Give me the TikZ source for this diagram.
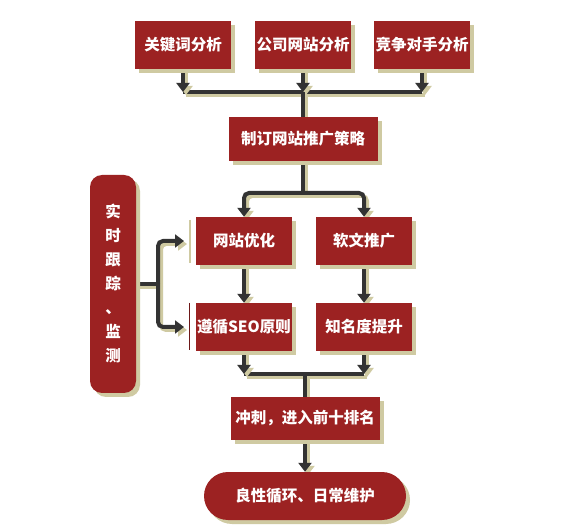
\documentclass[tikz,border=0pt]{standalone}
\usepackage{fontspec}
\newfontfamily\cjk{Noto Sans CJK SC}
\usetikzlibrary{arrows.meta,shadows,calc}
\definecolor{boxred}{HTML}{9C2222}
\definecolor{shd}{HTML}{CFCAA2}
\definecolor{lin}{HTML}{333333}
\pgfdeclarelayer{bg}
\pgfsetlayers{bg,main}
\tikzset{
 box/.style={fill=boxred, draw=none, minimum width=96pt, minimum height=48pt, inner sep=0pt,
   text=white, font=\cjk\bfseries\fontsize{15.5}{18}\selectfont,
   drop shadow={fill=shd, opacity=1, shadow xshift=4pt, shadow yshift=-4pt}},
 wbox/.style={box, minimum width=149pt, minimum height=44pt},
 conn/.style={draw=lin, line width=4pt,
   preaction={draw=shd, line width=4pt, transform canvas={shift={(3pt,-3pt)}}}},
 arr/.style={conn, -{Triangle[width=13pt,length=9pt]}},
}
\begin{document}
\begin{tikzpicture}[x=1pt,y=-1pt]
\useasboundingbox (0,0) rectangle (568,529);
\node[box] (b1) at (183,45) {关键词分析};
\node[box] (b2) at (303,45) {公司网站分析};
\node[box] (b3) at (422,45) {竞争对手分析};
\node[wbox] (b4) at (303,139) {制订网站推广策略};
\node[box] (b5) at (244,241) {网站优化};
\node[box] (b6) at (364,241) {软文推广};
\node[box] (b7) at (244,327) {遵循SEO原则};
\node[box] (b8) at (364,327) {知名度提升};
\node[wbox, minimum height=43pt] (b9) at (305,418.5) {冲刺，进入前十排名};
\node[box, minimum width=202pt, rounded corners=24pt] (b10) at (305,496) {良性循环、日常维护};
\node[box, minimum width=46pt, minimum height=218pt, rounded corners=12pt, align=center,
  font=\cjk\bfseries\fontsize{15.5}{24}\selectfont] (lt) at (113,284)
  {实\\时\\跟\\踪\\、\\监\\测};
\coordinate (j1) at (303,92);
\coordinate (j2) at (303,193);
\coordinate (j3) at (305,374);
\coordinate (jl) at (158,284);
\coordinate (t5) at (184,241);
\coordinate (t7) at (184,327);
\begin{pgfonlayer}{bg}
\fill[white] (0,0) rectangle (568,529);
\draw[conn] (b1.south |- j1) -- (b3.south |- j1);
\draw[arr] (b1.south) -- (b1.south |- j1);
\draw[arr] (b2.south) -- (j1);
\draw[arr] (b3.south) -- (b3.south |- j1);
\draw[conn] (j1) -- (b4.north);
\draw[conn] (b4.south) -- (j2);
\draw[arr, rounded corners=5pt] (j2) -| (b5.north);
\draw[arr, rounded corners=5pt] (j2) -| (b6.north);
\draw[arr] (b5.south) -- (b7.north);
\draw[arr] (b6.south) -- (b8.north);
\draw[conn] (b7.south |- j3) -- (b8.south |- j3);
\draw[arr] (b7.south) -- (b7.south |- j3);
\draw[arr] (b8.south) -- (b8.south |- j3);
\draw[conn] (j3) -- (b9.north);
\draw[arr] (b9.south) -- (b10.north);
\draw[conn] (lt.east |- jl) -- (jl);
\draw[arr, rounded corners=5pt] (jl) |- (t5);
\draw[arr, rounded corners=5pt] (jl) |- (t7);
\end{pgfonlayer}
\draw[shd, line width=1.5pt] (190,220) -- (190,263);
\draw[boxred!70!black, line width=1pt] (189,303) -- (189,350);
\end{tikzpicture}
\end{document}
